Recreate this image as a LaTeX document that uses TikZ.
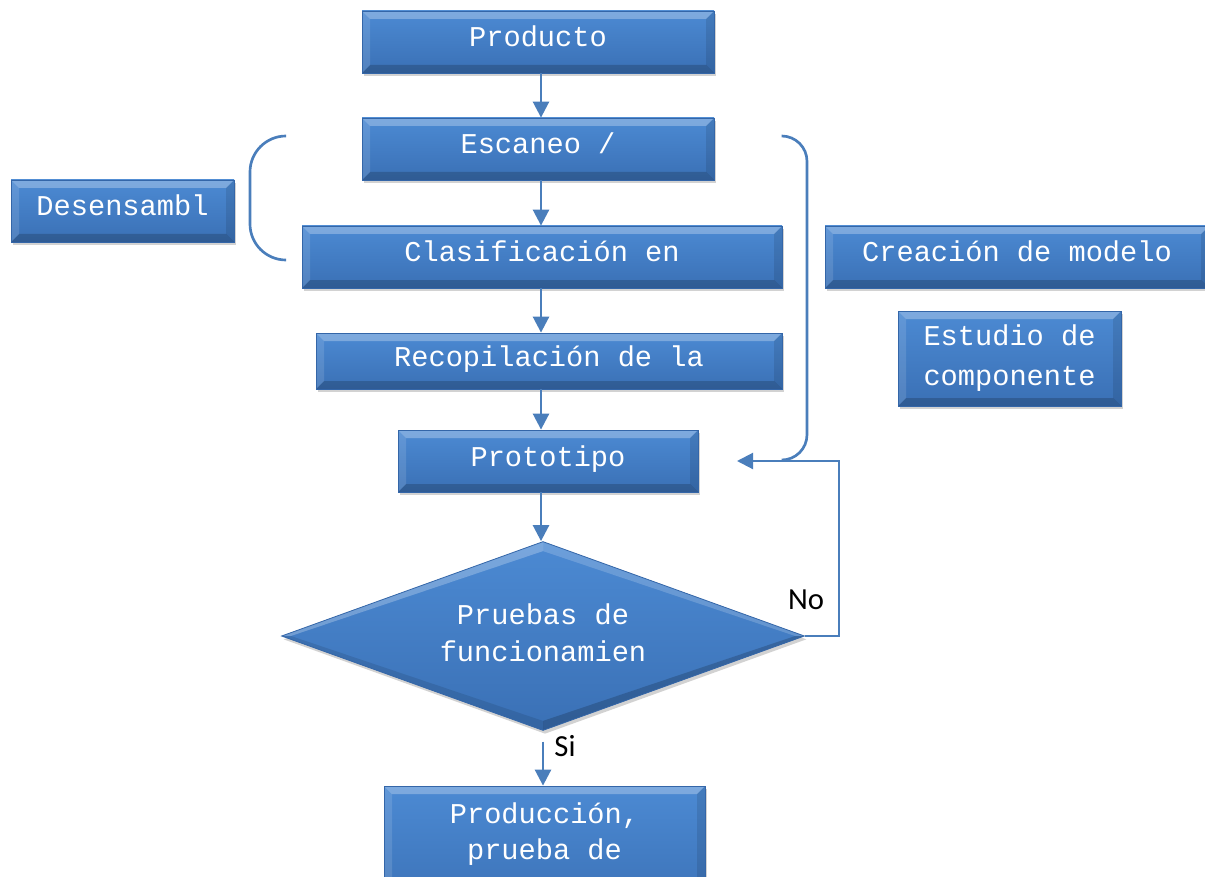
\documentclass[tikz,border=0pt]{standalone}
\usepackage{fontspec}
\usetikzlibrary{shapes.geometric,shadows,arrows.meta,calc}
\newfontfamily\boxfont{Liberation Mono}
\newfontfamily\lblfont{Carlito}
\definecolor{lineblue}{HTML}{4A7EBB}
\definecolor{boxtop}{HTML}{4C8AD3}
\definecolor{boxbot}{HTML}{3A70B5}
\definecolor{boxedge}{HTML}{3466A8}
\newdimen\pxu \pxu=0.75pt
\tikzset{
  bevel/.style={path picture={
    \path (path picture bounding box.north west) coordinate (pnw)
          (path picture bounding box.north east) coordinate (pne)
          (path picture bounding box.south west) coordinate (psw)
          (path picture bounding box.south east) coordinate (pse);
    \fill[white,opacity=.28] (pnw) -- (pne) -- ([shift={(-6pt,-6pt)}]pne) -- ([shift={(6pt,-6pt)}]pnw) -- cycle;
    \fill[black,opacity=.18] (psw) -- (pse) -- ([shift={(-6pt,6pt)}]pse) -- ([shift={(6pt,6pt)}]psw) -- cycle;
    \fill[white,opacity=.12] (pnw) -- (psw) -- ([shift={(6pt,6pt)}]psw) -- ([shift={(6pt,-6pt)}]pnw) -- cycle;
    \fill[black,opacity=.10] (pne) -- (pse) -- ([shift={(-6pt,6pt)}]pse) -- ([shift={(-6pt,-6pt)}]pne) -- cycle;
  }},
  dbevel/.style={path picture={
    \path (path picture bounding box.north west) coordinate (pnw)
          (path picture bounding box.south east) coordinate (pse);
    \coordinate (dn) at ($(pnw)!0.5!(pse |- pnw)$);
    \coordinate (ds) at ($(pnw |- pse)!0.5!(pse)$);
    \coordinate (dw) at ($(pnw)!0.5!(pnw |- pse)$);
    \coordinate (de) at ($(pse |- pnw)!0.5!(pse)$);
    \coordinate (dc) at ($(pnw)!0.5!(pse)$);
    \coordinate (in) at ($(dc)!0.9!(dn)$);
    \coordinate (is) at ($(dc)!0.9!(ds)$);
    \coordinate (iw) at ($(dc)!0.965!(dw)$);
    \coordinate (ie) at ($(dc)!0.965!(de)$);
    \fill[white,opacity=.25] (dw) -- (dn) -- (in) -- (iw) -- cycle;
    \fill[white,opacity=.18] (dn) -- (de) -- (ie) -- (in) -- cycle;
    \fill[black,opacity=.18] (de) -- (ds) -- (is) -- (ie) -- cycle;
    \fill[black,opacity=.10] (ds) -- (dw) -- (iw) -- (is) -- cycle;
  }},
  blbox/.style={rectangle, top color=boxtop, bottom color=boxbot, draw=boxedge, line width=0.6pt,
    drop shadow={shadow xshift=1.5pt, shadow yshift=-2.5pt, opacity=0.35},
    bevel, text=white, font=\boxfont\fontsize{21.5}{30}\selectfont, align=center, inner sep=0pt},
  oneline/.style={text height=16pt, text depth=8.5pt},
  bldia/.style={diamond, aspect=2.77, top color=boxtop, bottom color=boxbot, draw=boxedge, line width=0.6pt,
    drop shadow={shadow xshift=1.5pt, shadow yshift=-2.5pt, opacity=0.35},
    dbevel, inner sep=0pt},
  wtext/.style={text=white, align=center, anchor=north, inner sep=0pt},
  arr/.style={draw=lineblue, line width=2pt, -{Triangle[width=12pt,length=12pt]}},
  brk/.style={draw=lineblue, line width=2pt},
  lbl/.style={font=\lblfont\fontsize{23}{26}\selectfont, text=black, inner sep=0pt}
}
\begin{document}
\begin{tikzpicture}[x=0.75pt,y=-0.75pt]
\clip (0,0) rectangle (1205,877);
\fill[white] (0,0) rectangle (1205,877);
% boxes
\node[blbox, oneline, minimum width=352\pxu, minimum height=62\pxu] (prod) at (538,42) {Producto};
\node[blbox, oneline, minimum width=352\pxu, minimum height=62\pxu] (esc) at (538,149) {Escaneo /};
\node[blbox, oneline, minimum width=223\pxu, minimum height=62\pxu] (des) at (122.5,211) {Desensambl};
\node[blbox, oneline, minimum width=480\pxu, minimum height=62\pxu] (cla) at (542,257) {Clasificación en};
\node[blbox, oneline, minimum width=384\pxu, minimum height=62\pxu] (cre) at (1017,257) {Creación de modelo};
\node[blbox, oneline, minimum width=466\pxu, minimum height=56\pxu] (rec) at (549,361) {Recopilación de la};
\node[blbox, minimum width=223\pxu, minimum height=95\pxu] (est) at (1009.5,358.5) {Estudio de\\componente};
\node[blbox, oneline, minimum width=300\pxu, minimum height=62\pxu] (pro) at (548,461) {Prototipo};
\node[bldia, minimum width=523\pxu, minimum height=189\pxu] (dia) at (543,636) {};
\node[wtext, font=\boxfont\fontsize{21.5}{28}\selectfont] (diat) at (543,603) {Pruebas de\\funcionamien};
\node[blbox, minimum width=321\pxu, minimum height=130\pxu] (prd) at (544.5,851) {};
\node[wtext, font=\boxfont\fontsize{21.5}{27}\selectfont] (prdt) at (544.5,802) {Producción,\\prueba de};
% arrows
\coordinate (ax) at (541,0);
\draw[arr] (prod.south -| ax) -- (esc.north -| ax);
\draw[arr] (esc.south -| ax) -- (cla.north -| ax);
\draw[arr] (cla.south -| ax) -- (rec.north -| ax);
\draw[arr] (rec.south -| ax) -- (pro.north -| ax);
\draw[arr] (pro.south -| ax) -- (dia.north -| ax);
\coordinate (sx) at (543,0);
\draw[arr, shorten <=8pt] (dia.south -| sx) -- (prd.north -| sx);
% No loop
\coordinate (lc) at (839,461);
\coordinate (noend) at (737,461);
\draw[arr, line width=1.6pt] (dia.east) -| (lc) -- (noend);
\node[lbl] (no) at (806,600) {No};
\node[lbl] (si) at (565,746) {Si};
% brackets
\draw[brk, rounded corners=27pt] (285,136) -- (250,136) -- (250,260) -- (285,260);
\draw[brk, rounded corners=19pt] (782,136) -- (807,136) -- (807,460) -- (783,460);
\end{tikzpicture}
\end{document}
